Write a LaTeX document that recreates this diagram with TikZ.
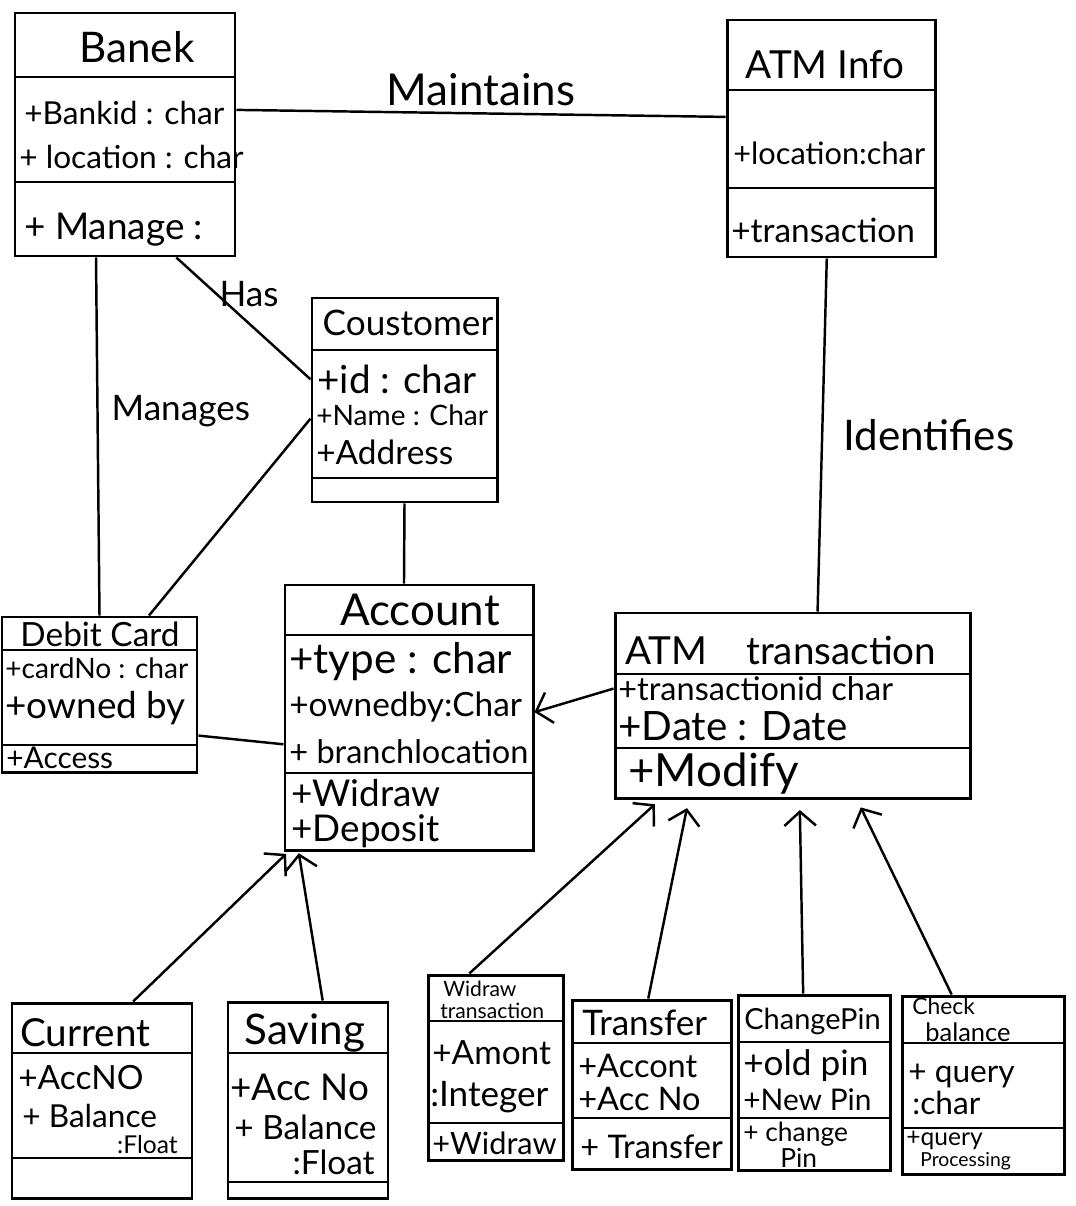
\documentclass[tikz,border=0pt]{standalone}
\usepackage{fontspec}
\setmainfont{Lato}
\usetikzlibrary{positioning,calc,fit,arrows.meta}
\tikzset{
    classbox/.style = {
        draw,
        shape=rectangle,
        inner sep=0pt,
        line width=1.7pt
    },
    divider/.style = {
        line width=1.5pt
    },
    link/.style = {
        line width=1.4pt
    },
    member/.style = {
        anchor=west,
        inner sep=0pt
    },
    baseline member/.style = {
        anchor=base west,
        inner sep=0pt
    },
    fsize/.style = {
        font=\fontsize{#1}{#1}\selectfont
    },
    >={Straight Barb[length=8pt,width=18pt]},
}

\begin{document}
\begin{tikzpicture}[x=0.02cm, y=-0.02cm]
\useasboundingbox (0,0) rectangle (1075,1206);

% Bank
\node[classbox, fit={(15,13) (235,256)}] (bank) {};
\draw[divider] (15,77) -- (235,77);
\draw[divider] (15,182) -- (235,182);
\node[fsize=24] (bank-title) at (137,47) {Banek};
\node[member, fsize=18] (bank-id) at (24,113) {+Bankid : char};
\node[member, fsize=18] (bank-loc) at (19,157) {+ location : char};
\node[member, fsize=21] (bank-manage) at (24,230) {+ Manage :};

% ATM Info
\node[classbox, fit={(727,20) (935,257)}] (atminfo) {};
\draw[divider] (727,90) -- (935,90);
\draw[divider] (727,188) -- (935,188);
\node[fsize=22] (atminfo-title) at (825,65) {ATM Info};
\node[member, fsize=17.5] (atminfo-loc) at (733,153) {+location:char};
\node[member, fsize=19] (atminfo-trans) at (731,230) {+transaction};

% Coustomer
\node[classbox, fit={(312,298) (497,502)}] (coust) {};
\draw[divider] (312,350) -- (497,350);
\draw[divider] (312,478) -- (497,478);
\node[fsize=20] (coust-title) at (408,323) {Coustomer};
\node[member, fsize=22] (coust-id) at (317,379) {+id : char};
\node[member, fsize=16] (coust-name) at (316,415) {+Name : Char};
\node[member, fsize=19] (coust-addr) at (316,452) {+Address};

% Debit Card
\node[classbox, fit={(2,617) (197,772)}] (debit) {};
\draw[divider] (2,650) -- (197,650);
\draw[divider] (2,745) -- (197,745);
\node[fsize=19] (debit-title) at (100,634) {Debit Card};
\node[member, fsize=16] (debit-no) at (5,668) {+cardNo : char};
\node[member, fsize=21] (debit-owner) at (5,708) {+owned by};
\node[member, fsize=17] (debit-access) at (6,758) {+Access};

% Account
\node[classbox, fit={(285,585) (533,850)}] (account) {};
\draw[divider] (285,635) -- (533,635);
\draw[divider] (285,773) -- (533,773);
\node[fsize=25] (account-title) at (420,610) {Account};
\node[member, fsize=24] (account-type) at (289,662) {+type : char};
\node[member, fsize=19] (account-owner) at (289,707) {+ownedby:Char};
\node[member, fsize=18.5] (account-branch) at (289,752) {+ branchlocation};
\node[member, fsize=21] (account-widraw) at (291,793) {+Widraw};
\node[member, fsize=21] (account-deposit) at (291,831) {+Deposit};

% ATM transaction
\node[classbox, fit={(615,613) (970,798)}] (atmtrans) {};
\draw[divider] (615,674) -- (970,674);
\draw[divider] (615,748) -- (970,748);
\node[member, fsize=22] (atmtrans-title) at (625,650) {ATM\quad transaction};
\node[member, fsize=18.5] (atmtrans-id) at (618,689) {+transactionid char};
\node[member, fsize=23] (atmtrans-date) at (618,726) {+Date : Date};
\node[member, fsize=26] (atmtrans-modify) at (628,774) {+Modify};

% Current
\node[classbox, fit={(12,1003) (192,1198)}] (current) {};
\draw[divider] (12,1053) -- (192,1053);
\draw[divider] (12,1158) -- (192,1158);
\node[member, fsize=22] (current-title) at (20,1033) {Current};
\node[member, fsize=19] (current-no) at (18,1078) {+AccNO};
\node[baseline member, fsize=18] (current-bal) at (22,1127) {+ Balance};
\node[anchor=base east, inner sep=0pt, fsize=14] (current-float) at (178,1153) {:Float};

% Saving
\node[classbox, fit={(228,1002) (388,1198)}] (saving) {};
\draw[divider] (228,1053) -- (388,1053);
\draw[divider] (228,1182) -- (388,1182);
\node[fsize=24] (saving-title) at (305,1033) {Saving};
\node[member, fsize=21] (saving-no) at (230,1087) {+Acc No};
\node[baseline member, fsize=19] (saving-bal) at (234,1139) {+ Balance};
\node[anchor=base east, inner sep=0pt, fsize=19] (saving-float) at (375,1174) {:Float};

% Widraw transaction
\node[classbox, fit={(428,975) (563,1160)}] (widraw) {};
\draw[divider] (428,1021) -- (563,1021);
\draw[divider] (428,1123) -- (563,1123);
\node[baseline member, fsize=12] (widraw-title1) at (443,996) {Widraw};
\node[baseline member, fsize=12] (widraw-title2) at (440,1018) {transaction};
\node[member, fsize=19] (widraw-amont) at (432,1053) {+Amont};
\node[member, fsize=20] (widraw-int) at (430,1097) {:Integer};
\node[member, fsize=17.5] (widraw-op) at (432,1143) {+Widraw};

% Transfer
\node[classbox, fit={(572,1000) (731,1169)}] (transfer) {};
\draw[divider] (572,1043) -- (731,1043);
\draw[divider] (572,1118) -- (731,1118);
\node[member, fsize=20] (transfer-title) at (582,1023) {Transfer};
\node[member, fsize=18.5] (transfer-accont) at (578,1066) {+Accont};
\node[member, fsize=18.5] (transfer-no) at (578,1099) {+Acc No};
\node[member, fsize=18.5] (transfer-op) at (580,1147) {+ Transfer};

% Change Pin
\node[classbox, fit={(738,995) (890,1170)}] (changepin) {};
\draw[divider] (738,1042) -- (890,1042);
\draw[divider] (738,1118) -- (890,1118);
\node[member, fsize=16.5] (changepin-title) at (744,1021) {ChangePin};
\node[member, fsize=20] (changepin-old) at (743,1066) {+old pin};
\node[member, fsize=17] (changepin-new) at (743,1100) {+New Pin};
\node[baseline member, fsize=15] (changepin-op1) at (743,1141) {+ change};
\node[baseline member, fsize=15] (changepin-op2) at (780,1167) {Pin};

% Check balance
\node[classbox, fit={(902,996) (1064,1174)}] (checkbal) {};
\draw[divider] (902,1043) -- (1064,1043);
\draw[divider] (902,1128) -- (1064,1128);
\node[baseline member, fsize=13] (checkbal-title1) at (912,1014) {Check};
\node[baseline member, fsize=14.5] (checkbal-title2) at (925,1041) {balance};
\node[baseline member, fsize=18] (checkbal-query) at (908,1082) {+ query};
\node[baseline member, fsize=18] (checkbal-char) at (912,1114) {:char};
\node[baseline member, fsize=14] (checkbal-op1) at (906,1145) {+query};
\node[baseline member, fsize=11] (checkbal-op2) at (920,1166) {Processing};

% associations
\path[draw, link] ($(bank.north east)!0.40!(bank.south east)$) -- node[above=0pt, fsize=25] (maintains) {Maintains} ($(atminfo.north west)!0.41!(atminfo.south west)$);
\path[draw, link] ($(atminfo.south west)!0.48!(atminfo.south east)$) -- node[right=8pt, fsize=24] (identifies) {Identifies} ($(atmtrans.north west)!0.57!(atmtrans.north east)$);
\path[draw, link] ($(bank.south west)!0.37!(bank.south east)$) -- node[pos=0.43, right=4pt, fsize=20] (manages) {Manages} ($(debit.north west)!0.5!(debit.north east)$);
\path[draw, link] ($(bank.south west)!0.73!(bank.south east)$) -- node[pos=0.3, anchor=west, inner sep=1pt, fsize=20] (has) {Has} ($(coust.north west)!0.40!(coust.south west)$);
\path[draw, link] ($(coust.north west)!0.59!(coust.south west)$) -- ($(debit.north west)!0.75!(debit.north east)$);
\path[draw, link] ($(coust.south west)!0.5!(coust.south east)$) -- ($(account.north west)!0.48!(account.north east)$);
\path[draw, link] ($(debit.north east)!0.76!(debit.south east)$) -- ($(account.north west)!0.60!(account.south west)$);
\path[draw, link, ->] ($(atmtrans.north west)!0.41!(atmtrans.south west)$) -- ($(account.north east)!0.48!(account.south east)$);

% generalisations
\path[draw, link, ->, shorten >=2pt] ($(current.north west)!0.67!(current.north east)$) -- ($(account.south west)!0.02!(account.south east)$);
\path[draw, link, ->, shorten >=1pt] ($(saving.north west)!0.59!(saving.north east)$) -- ($(account.south west)!0.06!(account.south east)$);
\path[draw, link, ->, shorten >=4pt] ($(widraw.north west)!0.31!(widraw.north east)$) -- ($(atmtrans.south west)!0.13!(atmtrans.south east)$);
\path[draw, link, ->, shorten >=5pt] ($(transfer.north west)!0.48!(transfer.north east)$) -- ($(atmtrans.south west)!0.21!(atmtrans.south east)$);
\path[draw, link, ->, shorten >=6pt] ($(changepin.north west)!0.43!(changepin.north east)$) -- ($(atmtrans.south west)!0.52!(atmtrans.south east)$);
\path[draw, link, ->, shorten >=5pt] ($(checkbal.north west)!0.31!(checkbal.north east)$) -- ($(atmtrans.south west)!0.68!(atmtrans.south east)$);
\end{tikzpicture}
\end{document}
